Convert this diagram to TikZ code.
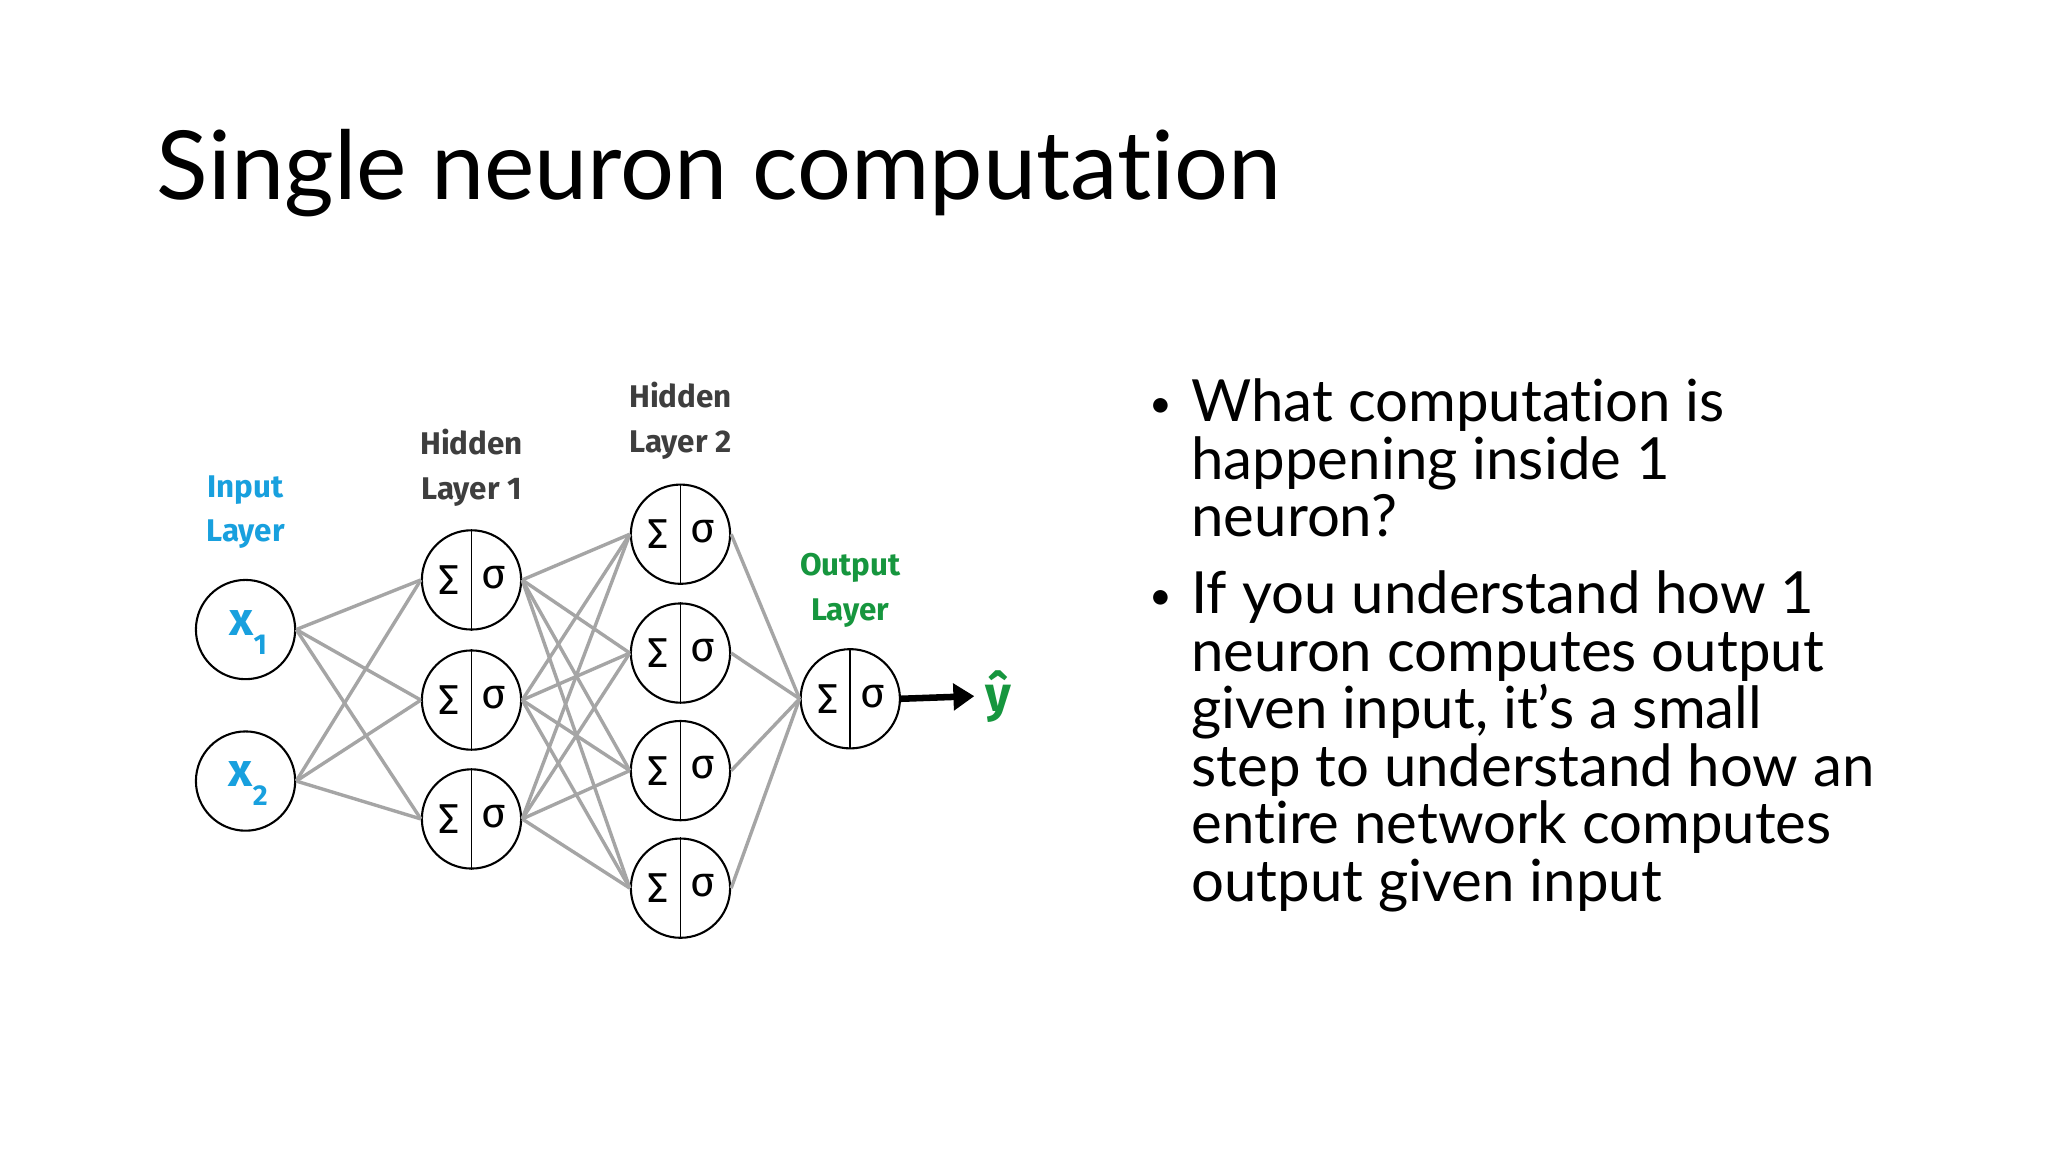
\documentclass[tikz,border=0pt]{standalone}
\usepackage{fontspec}
\usetikzlibrary{arrows.meta}
\setmainfont{Lato}[Ligatures={NoCommon,TeX}]
\newfontfamily\lab{Fira Sans}
\definecolor{inblue}{RGB}{24,160,222}
\definecolor{outgreen}{RGB}{22,150,62}
\definecolor{edgegray}{RGB}{165,165,165}
\definecolor{labgray}{RGB}{62,62,62}
\begin{document}
\begin{tikzpicture}[x=1pt,y=-1pt,
  neuron/.style={circle,draw,line width=1.6pt,minimum size=76pt,inner sep=0pt},
  edge/.style={draw=edgegray,line width=2.6pt},
  lbl/.style={align=center,font=\lab\bfseries\fontsize{24}{34}\selectfont,text=labgray},
  sym/.style={font=\lab\fontsize{32}{32}\selectfont,inner sep=0pt}]
\useasboundingbox (0,0) rectangle (1568,882);
\fill[white] (0,0) rectangle (1568,882);
\node[anchor=base west,font=\fontsize{73}{80}\selectfont,inner sep=0pt] (title) at (120,153) {Single neuron computation};
% nodes
\node[neuron] (x1) at (188,482) {};
\node[neuron] (x2) at (188,598) {};
\node[sym,font=\lab\bfseries\fontsize{36}{36}\selectfont,text=inblue] (x1t) at (190,484) {x\raisebox{-0.4em}{\fontsize{22}{22}\selectfont 1}};
\node[sym,font=\lab\bfseries\fontsize{36}{36}\selectfont,text=inblue] (x2t) at (190,600) {x\raisebox{-0.4em}{\fontsize{22}{22}\selectfont 2}};
\foreach \n/\x/\y in {a1/361/444,a2/361/536,a3/361/627,b1/521/409,b2/521/500,b3/521/590,b4/521/680,o/651/535}{
  \node[neuron] (\n) at (\x,\y) {};
  \draw[line width=1.3pt] (\n.north) -- (\n.south);
  \node[sym] (\n s) at (\x-17,\y) {Σ};
  \node[sym] (\n g) at (\x+17,\y-2) {σ};
}
\foreach \i in {x1,x2}{\foreach \j in {a1,a2,a3}{\draw[edge] (\i.east) -- (\j.west);}}
\foreach \i in {a1,a2,a3}{\foreach \j in {b1,b2,b3,b4}{\draw[edge] (\i.east) -- (\j.west);}}
\foreach \i in {b1,b2,b3,b4}{\draw[edge] (\i.east) -- (o.west);}
\node[font=\lab\bfseries\fontsize{38}{38}\selectfont,text=outgreen,inner sep=0pt] (yh) at (764,533) {ŷ};
\draw[line width=5pt,-{Triangle[length=16pt,width=20pt]}] (o.east) -- ([xshift=-8pt]yh.west);
% labels
\node[lbl,text=inblue] (l0) at (188,392) {Input\\Layer};
\node[lbl] (l1) at (361,358) {Hidden\\Layer 1};
\node[lbl] (l2) at (521,322) {Hidden\\Layer 2};
\node[lbl,text=outgreen] (l3) at (651,452) {Output\\Layer};
% bullets
\node[anchor=north west,align=left,font=\fontsize{44.5}{44}\selectfont,inner sep=0pt] (bul1) at (880,290)
 {\makebox[32pt][l]{\fontsize{30}{30}\selectfont\raisebox{3pt}{•}}What computation is\\\hspace*{32pt}happening inside 1\\\hspace*{32pt}neuron?};
\node[anchor=north west,align=left,font=\fontsize{44.5}{44}\selectfont,inner sep=0pt] (bul2) at (880,437)
 {\makebox[32pt][l]{\fontsize{30}{30}\selectfont\raisebox{3pt}{•}}If you understand how 1\\\hspace*{32pt}neuron computes output\\\hspace*{32pt}given input, it’s a small\\\hspace*{32pt}step to understand how an\\\hspace*{32pt}entire network computes\\\hspace*{32pt}output given input};
\end{tikzpicture}
\end{document}
